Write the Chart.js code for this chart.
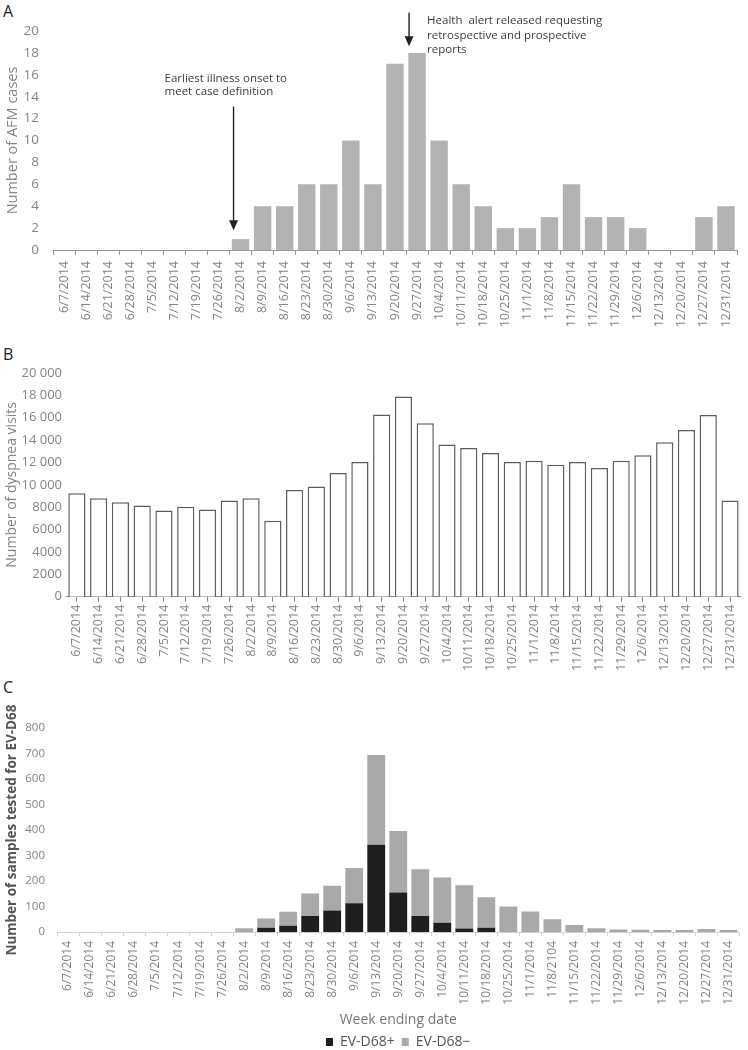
<!DOCTYPE html>
<html>
<head>
<meta charset="utf-8">
<script src="https://cdn.jsdelivr.net/npm/chart.js@4.4.0/dist/chart.umd.min.js"></script>
<style>
  body { margin: 0; background: #fff; width: 748px; height: 1050px; overflow: hidden; position: relative; font-family: 'Open Sans'; }
  canvas { position: absolute; left: 0; }
  .letter { position: absolute; left: 3px; font-size: 16px; color: #222; line-height: 20px; }
</style>
</head>
<body>
<div class="letter" style="top:1px">A</div>
<div class="letter" style="top:344px">B</div>
<div class="letter" style="top:677px">C</div>
<canvas id="chartA" width="748" height="345" style="top:0"></canvas>
<canvas id="chartB" width="748" height="345" style="top:345px"></canvas>
<canvas id="chartC" width="748" height="375" style="top:690px"></canvas>
<script>
// week ending dates
const weeks = ['6/7/2014','6/14/2014','6/21/2014','6/28/2014','7/5/2014','7/12/2014','7/19/2014','7/26/2014',
  '8/2/2014','8/9/2014','8/16/2014','8/23/2014','8/30/2014','9/6/2014','9/13/2014','9/20/2014','9/27/2014',
  '10/4/2014','10/11/2014','10/18/2014','10/25/2014','11/1/2014','11/8/2014','11/15/2014','11/22/2014',
  '11/29/2014','12/6/2014','12/13/2014','12/20/2014','12/27/2014','12/31/2014'];
// panel C has its own labels (typo kept from the original)
const weeksC = weeks.map(w => w === '11/8/2014' ? '11/8/2104' : w);

// A: AFM cases
const afmCases = [0,0,0,0,0,0,0,0, 1,4,4,6,6,10,6,17,18, 10,6,4,2,2,3,6,3, 3,2,0,0,3,4];

// B: dyspnea visits
const dyspneaVisits = [9250,8800,8450,8150,7700,8050,7800,8600, 8800,6800,9550,9850,11050,12050,16300,17900,15500,
  13600,13300,12850,12050,12150,11800,12050,11500, 12150,12650,13800,14900,16250,8600];

// C: samples tested for EV-D68
const evPositive = [0,0,0,0,0,0,0,0, 0,17,25,63,84,113,342,155,63, 36,14,17,0,0,0,0,0, 0,0,0,0,0,0];
const evNegative = [0,0,0,0,0,0,0,0, 15,36,54,88,97,138,352,241,183, 178,169,119,100,80,50,27,15, 10,9,8,8,12,8];

const onsetNote = ['Earliest illness onset to', 'meet case definition'];
const alertNote = ['Health  alert released requesting', 'retrospective and prospective', 'reports'];

const tickGrey = '#858585';

function arrow(ctx, x, yTop, yTip) {
  ctx.beginPath();
  ctx.moveTo(x, yTop);
  ctx.lineTo(x, yTip - 8);
  ctx.stroke();
  ctx.beginPath();
  ctx.moveTo(x - 4.5, yTip - 10);
  ctx.lineTo(x + 4.5, yTip - 10);
  ctx.lineTo(x, yTip);
  ctx.closePath();
  ctx.fill();
}

const notesPlugin = {
  id: 'notes',
  afterDraw(chart) {
    const { ctx, scales: { x, y } } = chart;
    ctx.save();
    ctx.strokeStyle = '#222';
    ctx.fillStyle = '#222';
    ctx.lineWidth = 1.4;
    // earliest onset -> 8/2
    const x1 = x.getPixelForValue(8) - 7;
    arrow(ctx, x1, y.getPixelForValue(13.1), y.getPixelForValue(1.8));
    // health alert -> 9/27
    const x2 = x.getPixelForValue(16) - 8;
    arrow(ctx, x2, y.getPixelForValue(21.7), y.getPixelForValue(18.6));

    ctx.fillStyle = '#3c3c3c';
    ctx.font = '11.5px "Open Sans"';
    ctx.textBaseline = 'middle';
    ctx.textAlign = 'left';
    const t1y = y.getPixelForValue(15.6);
    onsetNote.forEach((line, i) => ctx.fillText(line, x1 - 69, t1y + i * 12.5));
    const t2y = y.getPixelForValue(20.9);
    alertNote.forEach((line, i) => ctx.fillText(line, x2 + 18, t2y + i * 14.2));
    ctx.restore();
  }
};

// centre the legend under the plot area instead of the whole canvas
const legendShift = {
  id: 'legendShift',
  afterLayout(chart) {
    const lg = chart.legend, area = chart.chartArea;
    if (!lg) return;
    const d = (area.left + area.right) / 2 - (lg.left + lg.right) / 2;
    lg.left += d;
    lg.right += d;
  }
};

function xAxis(labels, opts) {
  return {
    grid: { display: true, drawOnChartArea: false, offset: opts.offset, tickLength: opts.tickLength, color: opts.axisColor, lineWidth: 1 },
    border: { display: true, color: opts.axisColor, width: 1 },
    ticks: { autoSkip: false, minRotation: 90, maxRotation: 90, padding: opts.padding, color: tickGrey,
      font: { family: 'Open Sans', size: opts.fontSize } },
    afterFit: s => { s.height = opts.height; }
  };
}

Chart.defaults.font.family = 'Open Sans';
Chart.defaults.animation = false;
Chart.defaults.responsive = false;
Chart.defaults.plugins.tooltip.enabled = false;

new Chart(document.getElementById('chartA'), {
  type: 'bar',
  data: { labels: weeks, datasets: [{ label: 'AFM cases', data: afmCases, backgroundColor: '#b3b3b3',
    barPercentage: 0.79, categoryPercentage: 1 }] },
  options: {
    layout: { padding: { top: 31, right: 11, left: 0, bottom: 0 } },
    plugins: { legend: { display: false } },
    scales: {
      x: xAxis(weeks, { offset: true, tickLength: 5, axisColor: '#999', padding: 6, fontSize: 12.5, height: 95 }),
      y: { min: 0, max: 20, ticks: { stepSize: 2, padding: 14, color: tickGrey, font: { size: 13.5 } },
        grid: { display: false, drawTicks: false }, border: { display: false },
        title: { display: true, text: 'Number of AFM cases', color: tickGrey, font: { size: 14.5 } },
        afterFit: s => { s.width = 53; } }
    }
  },
  plugins: [notesPlugin]
});

new Chart(document.getElementById('chartB'), {
  type: 'bar',
  data: { labels: weeks, datasets: [{ label: 'Dyspnea visits', data: dyspneaVisits, backgroundColor: '#fff',
    borderColor: '#5e5e5e', borderWidth: 1.5, barPercentage: 0.79, categoryPercentage: 1 }] },
  options: {
    layout: { padding: { top: 28, right: 0, left: 0, bottom: 0 } },
    plugins: { legend: { display: false } },
    scales: {
      x: xAxis(weeks, { offset: false, tickLength: 5, axisColor: '#888', padding: 3, fontSize: 12.5, height: 93.3 }),
      y: { min: 0, max: 20000, ticks: { stepSize: 2000, padding: 4, color: tickGrey, font: { size: 13 },
          callback: v => v >= 10000 ? Math.floor(v / 1000) + ' ' + String(v % 1000).padStart(3, '0') : String(v) },
        grid: { display: false, drawTicks: false }, border: { display: false },
        title: { display: true, text: 'Number of dyspnea visits', color: tickGrey, font: { size: 14 } },
        afterFit: s => { s.width = 66; } }
    }
  }
});

new Chart(document.getElementById('chartC'), {
  type: 'bar',
  data: { labels: weeksC, datasets: [
    { label: 'EV-D68+', data: evPositive, backgroundColor: '#1e1e1e', barPercentage: 0.81, categoryPercentage: 1 },
    { label: 'EV-D68\u2212', data: evNegative, backgroundColor: '#a9a9a9', barPercentage: 0.81, categoryPercentage: 1 }
  ] },
  options: {
    layout: { padding: { top: 38, right: 6, left: 0, bottom: 6 } },
    plugins: { legend: { display: true, position: 'bottom',
      labels: { boxWidth: 7, boxHeight: 8, padding: 7, color: '#555', font: { size: 14 } } } },
    scales: {
      x: Object.assign(xAxis(weeksC, { offset: true, tickLength: 4, axisColor: '#d2d2d2', padding: 5, fontSize: 12, height: 96 }),
        { stacked: true, title: { display: true, text: 'Week ending date', color: '#777', font: { size: 14 }, padding: { top: 4, bottom: 0 } } }),
      y: { stacked: true, min: 0, max: 800, ticks: { stepSize: 100, padding: 12, color: tickGrey, font: { size: 11.5 } },
        grid: { display: false, drawTicks: false }, border: { display: false },
        title: { display: true, text: 'Number of samples tested for EV-D68', color: '#555', font: { size: 13.5, weight: 'bold' } },
        afterFit: s => { s.width = 57; } }
    }
  },
  plugins: [legendShift]
});
</script>
</body>
</html>
